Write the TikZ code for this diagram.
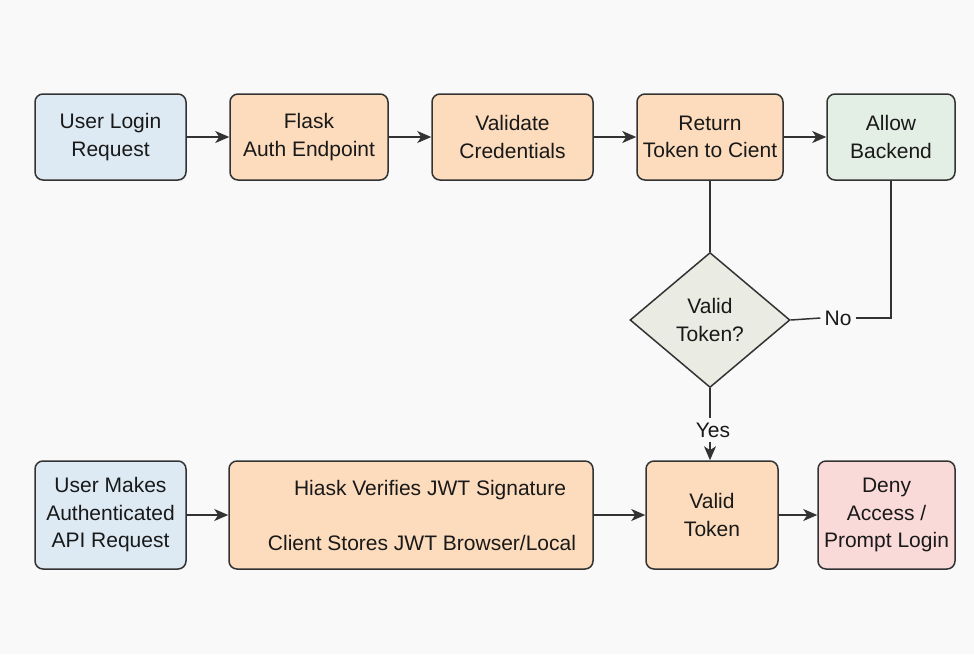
\documentclass[tikz,border=0pt]{standalone}
\usepackage{fontspec}
\setmainfont{Liberation Sans}
\usetikzlibrary{arrows.meta,shapes.geometric}

\definecolor{edge}{HTML}{333333}
\definecolor{bluefill}{HTML}{DDEAF4}
\definecolor{orangefill}{HTML}{FCDCBD}
\definecolor{greenfill}{HTML}{E3EEE5}
\definecolor{grayfill}{HTML}{EAEBE2}
\definecolor{pinkfill}{HTML}{FADAD8}
\definecolor{paper}{HTML}{F9F9F9}

\tikzset{
  box/.style={draw=edge, line width=1.5pt, rounded corners=8pt,
    align=center, inner sep=0pt, text=black!90,
    font=\fontsize{21}{27.5}\selectfont},
  bluebox/.style={box, fill=bluefill},
  orangebox/.style={box, fill=orangefill},
  greenbox/.style={box, fill=greenfill},
  pinkbox/.style={box, fill=pinkfill},
  plain/.style={inner sep=0pt, text=black!90, align=center,
    font=\fontsize{21}{27.5}\selectfont},
  tag/.style={plain, inner sep=4pt},
  flow/.style={draw=edge, line width=1.5pt,
    -{Stealth[length=14pt,width=12pt,inset=4pt]}},
  wire/.style={draw=edge, line width=1.5pt},
}

\begin{document}
\begin{tikzpicture}[x=1pt,y=-1pt]
  % canvas
  \fill[paper] (0,0) rectangle (974,654);
  \useasboundingbox (0,0) rectangle (974,654);

  % top row
  \node[bluebox, minimum width=151pt, minimum height=86pt] (login) at (110.5,137) {User Login\\Request};
  \node[orangebox, minimum width=158pt, minimum height=86pt] (flask) at (309,137) {Flask\\Auth Endpoint};
  \node[orangebox, minimum width=161pt, minimum height=86pt] (validate) at (512.5,137) {Validate\\Credentials};
  \node[orangebox, minimum width=146pt, minimum height=86pt] (return) at (710,137) {Return\\Token to Cient};
  \node[greenbox, minimum width=128pt, minimum height=86pt] (allow) at (891,137) {Allow\\Backend};

  % decision
  \node[diamond, draw=edge, line width=1.5pt, fill=grayfill, inner sep=0pt,
        minimum width=160pt, minimum height=135pt] (check) at (710,320) {};
  \node[plain] (checktext) at (check) {Valid\\Token?};
  \node[tag] (no) at (838,318) {No};
  \node[tag] (yes) at (713,430) {Yes};

  % bottom row
  \node[bluebox, minimum width=151pt, minimum height=108pt] (apireq) at (110.5,515) {User Makes\\Authenticated\\API Request};
  \node[orangebox, minimum width=364pt, minimum height=108pt] (verify) at (411,515) {};
  \node[plain] (verifytop) at (430,490) {Hiask Verifies JWT Signature};
  \node[plain] (verifybot) at (422,543) {Client Stores JWT Browser/Local};
  \node[orangebox, minimum width=132pt, minimum height=108pt] (valid) at (712,515) {Valid\\Token};
  \node[pinkbox, minimum width=137pt, minimum height=108pt] (deny) at (886.5,515) {Deny\\Access /\\Prompt Login};

  % top row arrows
  \draw[flow] (login) -- (flask);
  \draw[flow] (flask) -- (validate);
  \draw[flow] (validate) -- (return);
  \draw[flow] (return) -- (allow);

  % decision wiring
  \draw[wire] (return.south) -- (check.north);
  \draw[wire] (check.east) -- (no.west);
  \draw[wire] (no.east) -| (allow.south);
  \draw[wire] (check.south) -- (yes.north -| check.south);
  \draw[flow] (yes.south -| check.south) -- (check.south |- valid.north);

  % bottom row arrows
  \draw[flow] (apireq) -- (verify);
  \draw[flow] (verify) -- (valid);
  \draw[flow] (valid) -- (deny);
\end{tikzpicture}
\end{document}
